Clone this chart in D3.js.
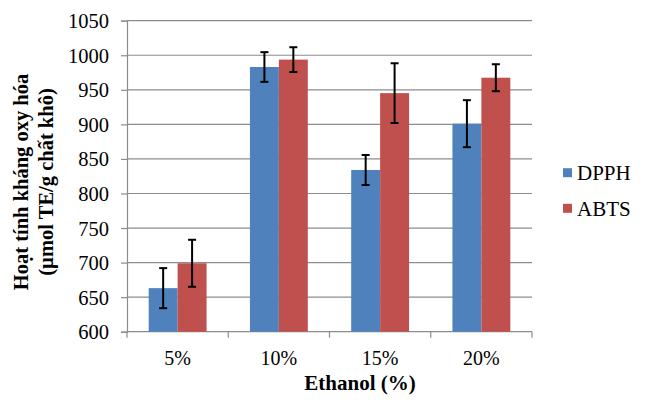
<!DOCTYPE html>
<html>
<head>
<meta charset="utf-8">
<script src="https://cdn.jsdelivr.net/npm/d3@7"></script>
<style>
html, body { margin: 0; padding: 0; background: #fff; }
svg { display: block; }
text { font-family: "Liberation Serif", "Times New Roman", serif; fill: #000; }
</style>
</head>
<body>
<svg id="chart" width="654" height="405"></svg>
<script>
const categories = ["5%", "10%", "15%", "20%"];
const seriesNames = ["DPPH", "ABTS"];
const dpph = [663, 983, 834, 901];
const dpphErr = [29, 21.5, 21.7, 34];
const abts = [699, 993.7, 945.2, 967.5];
const abtsErr = [34, 17.9, 43.2, 19.5];
const yTicks = [600, 650, 700, 750, 800, 850, 900, 950, 1000, 1050];
const colors = ["#4F81BD", "#C0504D"];

(function () {
const svg = d3.select("#chart");
const mLeft = 127, mRight = 532, mTop = 20.7, mBottom = 331.7;

const x = d3.scaleBand().domain(categories).range([mLeft, mRight]).padding(0);
const xs = d3.scaleBand().domain(seriesNames).range([0, x.bandwidth()])
  .paddingInner(0).paddingOuter(0.75);
const y = d3.scaleLinear().domain([600, 1050]).range([mBottom, mTop]);

// gridlines
svg.append("g").selectAll("line").data(yTicks.filter(d => d !== 600)).join("line")
  .attr("x1", mLeft).attr("x2", mRight)
  .attr("y1", d => y(d)).attr("y2", d => y(d))
  .attr("stroke", "#8c8c8c").attr("stroke-width", 1.2);

// y axis
const yAxis = d3.axisLeft(y).tickValues(yTicks).tickSize(6).tickPadding(12).tickFormat(d3.format("d"));
const gy = svg.append("g").attr("transform", `translate(${mLeft},0)`).call(yAxis);
gy.select(".domain").attr("stroke", "#8c8c8c").attr("stroke-width", 1.2);
gy.selectAll(".tick line").attr("stroke", "#8c8c8c").attr("stroke-width", 1.2);
gy.selectAll(".tick text").style("font-size", "20.5px").attr("dy", "0.34em")
  .style("font-family", "'Liberation Serif', serif");

// x axis
const gx = svg.append("g").attr("transform", `translate(0,${mBottom})`);
gx.append("line").attr("x1", mLeft).attr("x2", mRight).attr("y1", 0).attr("y2", 0)
  .attr("stroke", "#8c8c8c").attr("stroke-width", 1.2);
const bounds = categories.map(c => x(c)).concat([mRight]);
gx.selectAll("line.tk").data(bounds).join("line").attr("class", "tk")
  .attr("x1", d => d).attr("x2", d => d).attr("y1", 0).attr("y2", 6)
  .attr("stroke", "#8c8c8c").attr("stroke-width", 1.2);
gx.selectAll("text").data(categories).join("text")
  .attr("x", d => x(d) + x.bandwidth() / 2).attr("y", 33)
  .attr("text-anchor", "middle").style("font-size", "20px").text(d => d);

// bars
const data = [];
categories.forEach((c, i) => {
  data.push({ cat: c, s: "DPPH", v: dpph[i], e: dpphErr[i], color: colors[0] });
  data.push({ cat: c, s: "ABTS", v: abts[i], e: abtsErr[i], color: colors[1] });
});
svg.append("g").selectAll("rect").data(data).join("rect")
  .attr("x", d => x(d.cat) + xs(d.s)).attr("width", xs.bandwidth())
  .attr("y", d => y(d.v)).attr("height", d => y(600) - y(d.v))
  .attr("fill", d => d.color);

// error bars
const eg = svg.append("g").attr("stroke", "#000").attr("stroke-width", 2);
data.forEach(d => {
  const cx = x(d.cat) + xs(d.s) + xs.bandwidth() / 2;
  eg.append("line").attr("x1", cx).attr("x2", cx).attr("y1", y(d.v + d.e)).attr("y2", y(d.v - d.e));
  eg.append("line").attr("x1", cx - 4).attr("x2", cx + 4).attr("y1", y(d.v + d.e)).attr("y2", y(d.v + d.e));
  eg.append("line").attr("x1", cx - 4).attr("x2", cx + 4).attr("y1", y(d.v - d.e)).attr("y2", y(d.v - d.e));
});

// legend
const lg = svg.append("g");
seriesNames.forEach((s, i) => {
  const cy = 172.7 + i * 35.6;
  lg.append("rect").attr("x", 563).attr("y", cy - 4.5).attr("width", 9).attr("height", 9).attr("fill", colors[i]);
  lg.append("text").attr("x", 577).attr("y", cy).attr("dy", "0.35em").style("font-size", "21px").text(s);
});

// axis titles
svg.append("text").attr("x", 360).attr("y", 390).attr("text-anchor", "middle")
  .style("font-size", "21px").style("font-weight", "bold").text("Ethanol (%)");

const yt = svg.append("text").attr("transform", "translate(0,182) rotate(-90)")
  .attr("text-anchor", "middle").style("font-size", "20.5px").style("font-weight", "bold");
yt.append("tspan").attr("x", 0).attr("y", 27.5).text("Hoạt tính kháng oxy hóa");
yt.append("tspan").attr("x", 0).attr("y", 52.5).text("(µmol TE/g chất khô)");
})();
</script>
</body>
</html>
